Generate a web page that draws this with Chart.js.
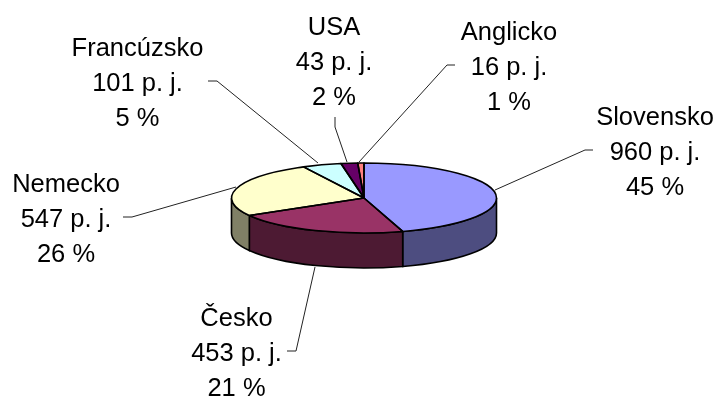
<!DOCTYPE html>
<html>
<head>
<meta charset="utf-8">
<title>Pie</title>
<script src="https://cdn.jsdelivr.net/npm/chart.js"></script>
<style>
  html, body { margin: 0; padding: 0; background: #fff; }
  canvas { display: block; }
</style>
</head>
<body>
<canvas id="chart" width="717" height="400"></canvas>
<script>
// hodnoty odcitane z obrazka
const categories = ['Slovensko', 'Česko', 'Nemecko', 'Francúzsko', 'USA', 'Anglicko'];
const values = [960, 453, 547, 101, 43, 16];
const percents = [45, 21, 26, 5, 2, 1];
const unit = 'p. j.';

const colors = ['#9999FF', '#993366', '#FFFFCC', '#CCFFFF', '#660066', '#FF8080'];
const sideColors = ['#4D4D80', '#4D1A33', '#808066', '#668080', '#330033', '#804040'];

// stred textu a uctiary prveho riadku popisov
const labelX = [655, 236.5, 66, 137.5, 334, 509];
const labelY = [125, 326, 192, 56, 35, 40];
const lineHeight = 35.2;

// odkazove ciary k popisom
const leaders = [
  [[495, 190], [585, 150], [593, 150]],
  [[315, 267], [296, 351], [287, 351]],
  [[236, 187], [132, 217], [123, 217]],
  [[318, 163], [217, 81], [208, 81]],
  [[347, 162], [335, 127], [335, 117]],
  [[359, 162], [447, 65], [455, 65]]
];

// splosteny kolac
const squash = 35 / 132.5;
const depth = 35;

const pie3d = {
  id: 'pie3d',
  beforeDatasetsDraw(chart) {
    const ctx = chart.ctx;
    const arcs = chart.getDatasetMeta(0).data;
    ctx.save();
    ctx.lineWidth = 1.6;
    ctx.strokeStyle = '#000';
    arcs.forEach((arc, i) => {
      const a0 = Math.max(arc.startAngle, 0);
      const a1 = Math.min(arc.endAngle, Math.PI);
      if (a0 >= a1) return;
      const ry = arc.outerRadius * squash;
      ctx.beginPath();
      ctx.ellipse(arc.x, arc.y, arc.outerRadius, ry, 0, a0, a1);
      ctx.ellipse(arc.x, arc.y + depth, arc.outerRadius, ry, 0, a1, a0, true);
      ctx.closePath();
      ctx.fillStyle = sideColors[i];
      ctx.fill();
      ctx.stroke();
    });
    ctx.restore();

    const first = arcs[0];
    ctx.save();
    ctx.translate(first.x, first.y);
    ctx.scale(1, squash);
    ctx.translate(-first.x, -first.y);
  },
  afterDatasetsDraw(chart) {
    const ctx = chart.ctx;
    ctx.restore();

    // obrysy dielikov az po skreslenom kresleni, aby ciara mala rovnaku hrubku
    const arcs = chart.getDatasetMeta(0).data;
    ctx.save();
    ctx.lineWidth = 1.6;
    ctx.strokeStyle = '#000';
    ctx.lineJoin = 'round';
    arcs.forEach(arc => {
      ctx.beginPath();
      ctx.moveTo(arc.x, arc.y);
      ctx.ellipse(arc.x, arc.y, arc.outerRadius, arc.outerRadius * squash, 0, arc.startAngle, arc.endAngle);
      ctx.closePath();
      ctx.stroke();
    });

    ctx.lineWidth = 1;
    ctx.strokeStyle = '#222';
    leaders.forEach(pts => {
      ctx.beginPath();
      pts.forEach((p, j) => j ? ctx.lineTo(p[0], p[1]) : ctx.moveTo(p[0], p[1]));
      ctx.stroke();
    });

    ctx.fillStyle = '#000';
    ctx.font = '25.5px "Liberation Sans", Arial, sans-serif';
    ctx.textAlign = 'center';
    ctx.textBaseline = 'alphabetic';
    categories.forEach((name, i) => {
      ctx.fillText(name, labelX[i], labelY[i]);
      ctx.fillText(values[i] + ' ' + unit, labelX[i], labelY[i] + lineHeight);
      ctx.fillText(percents[i] + ' %', labelX[i], labelY[i] + 2 * lineHeight);
    });
    ctx.restore();
  }
};

new Chart(document.getElementById('chart'), {
  type: 'pie',
  data: {
    labels: categories,
    datasets: [{
      data: values,
      backgroundColor: colors,
      borderWidth: 0
    }]
  },
  options: {
    responsive: false,
    animation: false,
    devicePixelRatio: 1,
    layout: { padding: { left: 231.5, right: 220.5, top: 65.5, bottom: 69.5 } },
    plugins: {
      legend: { display: false },
      tooltip: { enabled: false }
    }
  },
  plugins: [pie3d]
});
</script>
</body>
</html>
